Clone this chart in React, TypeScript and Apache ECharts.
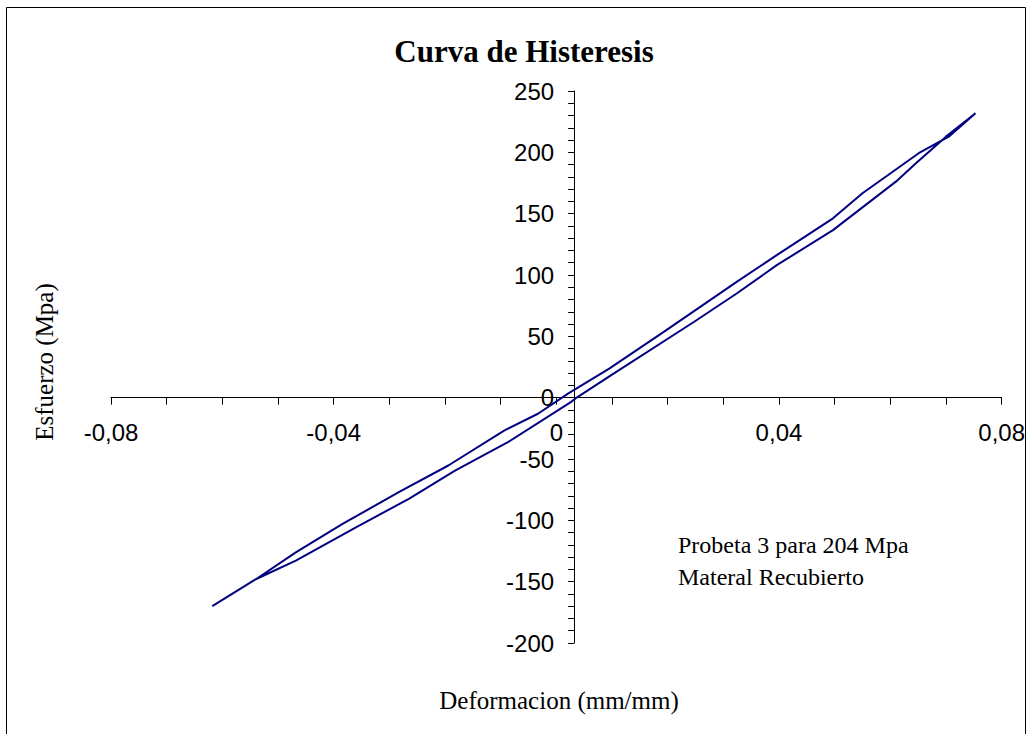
import React, { useEffect, useRef } from "react";
import * as echarts from "echarts";

// Loading branch (lower curve), from the minimum up to the maximum
const loadingStrain = [-0.0618, -0.0539, -0.0468, -0.036, -0.0265, -0.0182, -0.0087, 0.0026, 0.0038, 0.0098, 0.0247, 0.0324, 0.0396, 0.0497, 0.061, 0.0646, 0.07, 0.0753];
const loadingStress = [-169.9, -147.8, -132.9, -105.7, -82.5, -59.4, -36.3, -3.6, 0.5, 18.2, 61.7, 84.9, 108.0, 136.6, 176.1, 191.1, 212.8, 231.9];

// Unloading branch (upper curve), from the maximum back to the minimum
const unloadingStrain = [0.0753, 0.0705, 0.0651, 0.055, 0.0497, 0.0396, 0.0324, 0.0193, 0.0095, 0.0021, -0.0033, -0.0093, -0.0194, -0.0283, -0.0384, -0.0468, -0.0539, -0.0618];
const unloadingStress = [231.9, 212.8, 199.3, 166.6, 146.2, 116.2, 94.4, 53.6, 23.7, 3.3, -13.1, -26.7, -55.3, -77.1, -102.9, -126.1, -147.8, -169.9];

const X_MIN = -0.08;
const X_MAX = 0.08;
const X_INTERVAL = 0.04;
const Y_MIN = -200;
const Y_MAX = 250;
const Y_INTERVAL = 50;
const Y_AXIS_CROSS = 0.0027; // strain value where the vertical axis crosses
const X_AXIS_CROSS = 0; // stress value where the horizontal axis crosses

const TITLE = "Curva de Histeresis";
const X_NAME = "Deformacion (mm/mm)";
const Y_NAME = "Esfuerzo (Mpa)";
const NOTE_LINES = ["Probeta 3 para 204 Mpa", "Materal Recubierto"];

const W = 1028;
const H = 734;
const GRID_LEFT = 111;
const GRID_RIGHT = 21;
const GRID_TOP = 91;
const GRID_BOTTOM = 91;

export default function App() {
  const ref = useRef<HTMLDivElement>(null);

  useEffect(() => {
    document.body.style.margin = "0";
    if (!ref.current) return;
    const chart = echarts.init(ref.current, undefined, { renderer: "svg" });

    const data: number[][] = [];
    loadingStrain.forEach((x, i) => data.push([x, loadingStress[i]]));
    unloadingStrain.forEach((x, i) => data.push([x, unloadingStress[i]]));

    const gridWidth = W - GRID_LEFT - GRID_RIGHT;
    const gridHeight = H - GRID_TOP - GRID_BOTTOM;
    const yOffset = -((Y_AXIS_CROSS - X_MIN) / (X_MAX - X_MIN)) * gridWidth;
    const xOffset = -((X_AXIS_CROSS - Y_MIN) / (Y_MAX - Y_MIN)) * gridHeight;

    const serif = "'Liberation Serif', 'Times New Roman', serif";
    const sans = "'Liberation Sans', Arial, sans-serif";

    const fmtX = (v: number) => {
      const r = Number(v.toFixed(2));
      if (r === 0) return "0";
      return r.toFixed(2).replace(".", ",");
    };

    chart.setOption({
      animation: false,
      backgroundColor: "#ffffff",
      grid: { left: GRID_LEFT, right: GRID_RIGHT, top: GRID_TOP, bottom: GRID_BOTTOM, containLabel: false },
      xAxis: {
        type: "value",
        min: X_MIN,
        max: X_MAX,
        interval: X_INTERVAL,
        position: "bottom",
        offset: xOffset,
        axisLine: { show: true, onZero: false, lineStyle: { color: "#000", width: 1 } },
        axisTick: { show: true, inside: false, length: 7, lineStyle: { color: "#000", width: 1 } },
        minorTick: { show: true, splitNumber: 4, length: 7, lineStyle: { color: "#000", width: 1 } },
        splitLine: { show: false },
        minorSplitLine: { show: false },
        axisLabel: {
          show: true,
          margin: 23,
          fontSize: 24,
          fontFamily: sans,
          color: "#000",
          formatter: fmtX,
          showMinLabel: true,
          showMaxLabel: true,
        },
      },
      yAxis: {
        type: "value",
        min: Y_MIN,
        max: Y_MAX,
        interval: Y_INTERVAL,
        position: "left",
        offset: yOffset,
        axisLine: { show: true, onZero: false, lineStyle: { color: "#000", width: 1 } },
        axisTick: { show: true, inside: false, length: 6, lineStyle: { color: "#000", width: 1 } },
        minorTick: { show: true, splitNumber: 5, length: 6, lineStyle: { color: "#000", width: 1 } },
        splitLine: { show: false },
        minorSplitLine: { show: false },
        axisLabel: {
          show: true,
          margin: 20,
          fontSize: 24,
          fontFamily: sans,
          color: "#000",
        },
      },
      series: [
        {
          type: "line",
          data,
          showSymbol: false,
          symbol: "none",
          smooth: false,
          lineStyle: { color: "#000080", width: 2 },
          z: 3,
        },
      ],
      graphic: [
        {
          type: "rect",
          shape: { x: 6.5, y: 7.5, width: 1019, height: 800 },
          style: { fill: "none", stroke: "#000", lineWidth: 1 },
          silent: true,
          z: -1,
        },
        {
          type: "text",
          x: 524,
          y: 51,
          style: {
            text: TITLE,
            font: `bold 31px ${serif}`,
            fill: "#000",
            textAlign: "center",
            textVerticalAlign: "middle",
          },
        },
        {
          type: "text",
          x: 44,
          y: 362,
          rotation: Math.PI / 2,
          style: {
            text: Y_NAME,
            font: `25px ${serif}`,
            fill: "#000",
            textAlign: "center",
            textVerticalAlign: "middle",
          },
        },
        {
          type: "text",
          x: 559,
          y: 700,
          style: {
            text: X_NAME,
            font: `25px ${serif}`,
            fill: "#000",
            textAlign: "center",
            textVerticalAlign: "middle",
          },
        },
        {
          type: "text",
          x: 678,
          y: 545,
          style: {
            text: NOTE_LINES[0],
            font: `24px ${serif}`,
            fill: "#000",
            textAlign: "left",
            textVerticalAlign: "middle",
          },
        },
        {
          type: "text",
          x: 678,
          y: 577,
          style: {
            text: NOTE_LINES[1],
            font: `24px ${serif}`,
            fill: "#000",
            textAlign: "left",
            textVerticalAlign: "middle",
          },
        },
      ],
    });

    return () => {
      chart.dispose();
    };
  }, []);

  return <div ref={ref} style={{ width: W, height: H }} />;
}
